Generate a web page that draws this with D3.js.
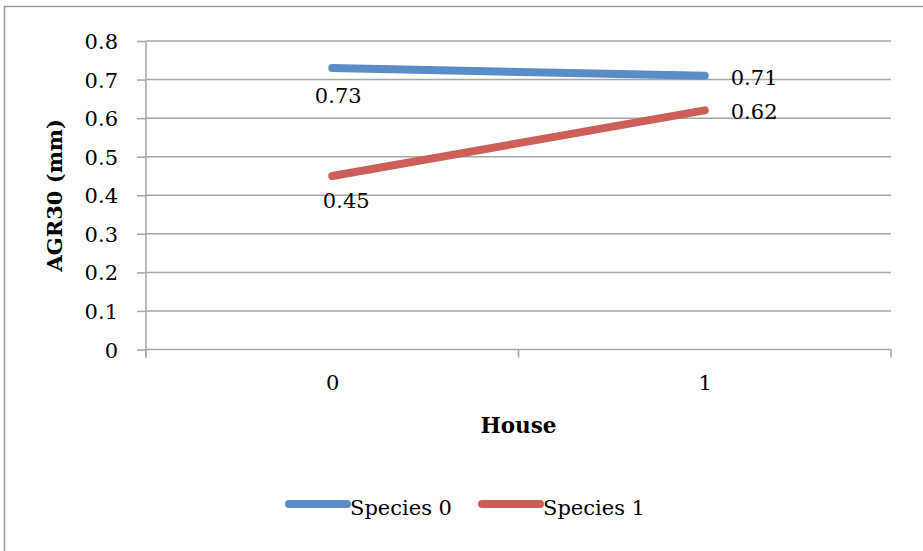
<!DOCTYPE html>
<html>
<head>
<meta charset="utf-8">
<script src="https://cdn.jsdelivr.net/npm/d3@7"></script>
<style>
  html, body { margin: 0; padding: 0; background: #fff; }
  svg { display: block; }
  text { font-family: "DejaVu Serif", "Liberation Serif", serif; fill: #000; }
</style>
</head>
<body>
<svg id="chart" width="923" height="551"></svg>
<script>
// Average growth rate over 30 days by house, per species
const houses = ["0", "1"];
const seriesNames = ["Species 0", "Species 1"];
const species0 = [0.73, 0.71];
const species1 = [0.45, 0.62];
const yTicks = [0, 0.1, 0.2, 0.3, 0.4, 0.5, 0.6, 0.7, 0.8];
const colors = ["#5A8DC7", "#CC5F58"];

const series = [
  { name: seriesNames[0], values: species0, color: colors[0] },
  { name: seriesNames[1], values: species1, color: colors[1] }
];

const svg = d3.select("#chart");
const plotLeft = 146, plotRight = 891, plotTop = 41, plotBottom = 349.5;
const fontSize = 21;

// outer chart frame
svg.append("rect")
  .attr("x", 4.5).attr("y", 6.5)
  .attr("width", 940).attr("height", 560)
  .attr("fill", "none").attr("stroke", "#9a9a9a").attr("stroke-width", 1.5);

const x = d3.scalePoint().domain(houses).range([plotLeft, plotRight]).padding(0.5);
const y = d3.scaleLinear().domain([0, 0.8]).range([plotBottom, plotTop]);

// horizontal gridlines
svg.append("g").selectAll("line")
  .data(yTicks)
  .join("line")
  .attr("x1", plotLeft).attr("x2", plotRight)
  .attr("y1", d => y(d)).attr("y2", d => y(d))
  .attr("stroke", "#a6a6a6").attr("stroke-width", 1.5);

// y axis with outside ticks
const yAxis = svg.append("g")
  .attr("transform", `translate(${plotLeft},0)`)
  .call(d3.axisLeft(y).tickValues(yTicks).tickSize(9).tickSizeOuter(0).tickPadding(19)
    .tickFormat(d => d === 0 ? "0" : d3.format(".1f")(d)));
yAxis.select(".domain").remove();
yAxis.selectAll(".tick line").attr("stroke", "#a6a6a6").attr("stroke-width", 1.5);
yAxis.selectAll(".tick text")
  .attr("font-family", "DejaVu Serif").attr("font-size", fontSize).attr("dy", "0.36em");
svg.append("line")
  .attr("x1", plotLeft).attr("x2", plotLeft).attr("y1", plotTop).attr("y2", plotBottom + 8)
  .attr("stroke", "#a6a6a6").attr("stroke-width", 1.5);

// x axis: labels at categories, tick marks at category boundaries
const xAxis = svg.append("g")
  .attr("transform", `translate(0,${plotBottom})`)
  .call(d3.axisBottom(x).tickSize(0).tickPadding(26));
xAxis.select(".domain").remove();
xAxis.selectAll(".tick text")
  .attr("font-family", "DejaVu Serif").attr("font-size", fontSize);
const step = x.step();
const boundaries = [x(houses[0]) - step / 2].concat(houses.map(h => x(h) + step / 2));
svg.append("g").selectAll("line")
  .data(boundaries)
  .join("line")
  .attr("x1", d => d).attr("x2", d => d)
  .attr("y1", plotBottom).attr("y2", plotBottom + 8)
  .attr("stroke", "#a6a6a6").attr("stroke-width", 1.5);

// axis titles
svg.append("text")
  .attr("transform", `translate(62,${(plotTop + plotBottom) / 2}) rotate(-90)`)
  .attr("text-anchor", "middle")
  .attr("font-size", 21).attr("font-weight", "bold")
  .text("AGR30 (mm)");
svg.append("text")
  .attr("x", (plotLeft + plotRight) / 2).attr("y", 433)
  .attr("text-anchor", "middle")
  .attr("font-size", 21.5).attr("font-weight", "bold")
  .text("House");

// series lines
const line = d3.line().x((d, i) => x(houses[i])).y(d => y(d));
svg.append("g").selectAll("path")
  .data(series)
  .join("path")
  .attr("d", s => line(s.values))
  .attr("fill", "none")
  .attr("stroke", s => s.color)
  .attr("stroke-width", 8)
  .attr("stroke-linecap", "round")
  .attr("stroke-linejoin", "round");

// value labels: first point below, last point to the right
const labelFmt = d3.format(".2f");
const labels = [];
series.forEach(s => {
  s.values.forEach((v, i) => {
    labels.push({ v, i, s });
  });
});
svg.append("g").selectAll("text")
  .data(labels)
  .join("text")
  .attr("x", d => d.i === 0 ? x(houses[0]) + (d.s === series[0] ? 6 : 14) : x(houses[1]) + 26)
  .attr("y", d => d.i === 0 ? y(d.v) + (d.s === series[0] ? 35 : 32) : y(d.v) + 9)
  .attr("text-anchor", d => d.i === 0 ? "middle" : "start")
  .attr("font-size", fontSize)
  .text(d => labelFmt(d.v));

// legend
const legendX = [289, 482];
const legend = svg.append("g").selectAll("g")
  .data(series)
  .join("g")
  .attr("transform", (d, i) => `translate(${legendX[i]},504)`);
legend.append("line")
  .attr("x1", 0).attr("x2", 58)
  .attr("stroke", d => d.color).attr("stroke-width", 8).attr("stroke-linecap", "round");
legend.append("text")
  .attr("x", 61).attr("y", 11)
  .attr("font-size", fontSize)
  .text(d => d.name);
</script>
</body>
</html>
